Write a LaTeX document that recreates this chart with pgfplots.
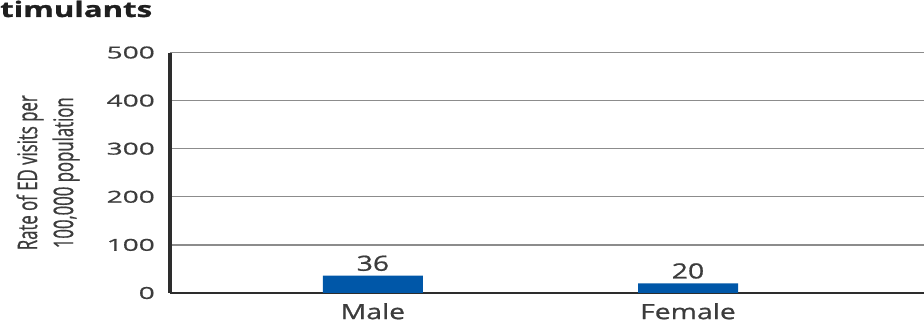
\documentclass[border=0pt]{standalone}
\usepackage{fontspec}
\usepackage{pgfplots}
\pgfplotsset{compat=1.18}
\setmainfont{Open Sans}
\newfontfamily\titlefont[FakeStretch=1.45, FakeBold=1.2]{Open Sans}
\newfontfamily\tickfont[FakeStretch=1.7, FakeBold=0.8]{Open Sans}
\newfontfamily\catfont[FakeStretch=1.35, FakeBold=0.8]{Open Sans}
\newfontfamily\labfont[FakeStretch=0.62, FakeBold=0.6]{Open Sans}
\definecolor{barblue}{RGB}{0,87,168}
\definecolor{txtgray}{RGB}{60,60,60}
\definecolor{gridgray}{RGB}{140,140,140}
\definecolor{axisdark}{RGB}{45,45,45}
\begin{document}
\begin{tikzpicture}
\begin{axis}[
  scale only axis,
  width=754pt, height=240.5pt,
  ymin=0, ymax=500, ytick={0,100,200,300,400,500},
  xmin=-0.644, xmax=1.749,
  xtick={0,1}, xticklabels={Male,Female},
  ybar, bar width=100pt,
  axis x line*=bottom, axis y line*=left,
  x axis line style={-, draw=axisdark, line width=1.8pt},
  y axis line style={-, draw=axisdark, line width=3.2pt},
  ymajorgrids,
  grid style={draw=gridgray, line width=1.4pt},
  tick style={draw=none},
  major tick length=0pt,
  /pgf/number format/assume math mode=true,
  yticklabel style={font=\tickfont\fontsize{16.5}{18}\selectfont, text=txtgray, anchor=east, inner sep=0pt, xshift=-15pt},
  xticklabel style={font=\catfont\fontsize{21}{24}\selectfont, text=txtgray, anchor=north, inner sep=0pt, yshift=-10pt},
  ylabel={Rate of ED visits per\\100,000 population},
  ylabel style={at={(axis description cs:-0.1618,0.5)}, anchor=center,
    align=center, font=\labfont\fontsize{27}{36}\selectfont, text=txtgray},
  nodes near coords,
  nodes near coords style={font=\catfont\fontsize{21}{24}\selectfont, text=txtgray, anchor=south, inner sep=0pt, yshift=4.5pt},
]
\addplot[fill=barblue, draw=none] coordinates {(0,36) (1,20)};
\end{axis}
\node[anchor=base west, inner sep=0pt, text=black!88] at (-170pt,276pt)
  {\titlefont\bfseries\fontsize{21.5}{24}\selectfont timulants};
\pgfresetboundingbox
\path[use as bounding box] (-170pt,-38pt) rectangle (754pt,293pt);
\end{tikzpicture}
\end{document}
